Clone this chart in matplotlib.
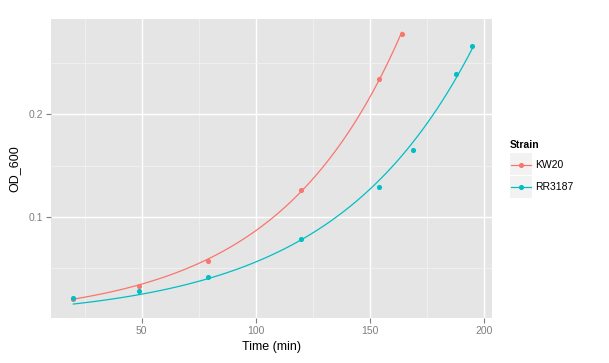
import numpy as np
import matplotlib
matplotlib.use("Agg")
import matplotlib.pyplot as plt
from matplotlib.patches import Rectangle
from matplotlib.lines import Line2D

plt.rcParams['font.family'] = ['Liberation Sans', 'DejaVu Sans']

# ── DATA ───────────────────────────────────────────────────────────────────────
strains = ["KW20", "RR3187"]
kw20_time = [20, 49, 79, 120, 154, 164]
kw20_od = [0.0205, 0.0330, 0.0575, 0.1263, 0.2344, 0.2785]
rr_time = [20, 49, 79, 120, 154, 169, 188, 195]
rr_od = [0.0214, 0.0282, 0.0419, 0.0786, 0.1295, 0.1655, 0.2395, 0.2668]
colors = ["#F8766D", "#00BFC4"]
# ───────────────────────────────────────────────────────────────────────────────


def exp_fit(x, y, n=80):
    """Fit y = a*exp(b*x) (log-linear, weighted toward larger y like nls)."""
    x = np.asarray(x, float)
    y = np.asarray(y, float)
    b, loga = np.polyfit(x, np.log(y), 1, w=y)
    xs = np.linspace(x.min(), x.max(), n)
    return xs, np.exp(loga) * np.exp(b * xs)


W, H = 609, 363
fig = plt.figure(figsize=(W / 100, H / 100), dpi=100)
ax = fig.add_axes([51 / W, 1 - 318 / H, (492 - 51) / W, (318 - 19) / H])

ax.set_facecolor('#E5E5E5')
for s in ax.spines.values():
    s.set_visible(False)

for t, od, c in zip([kw20_time, rr_time], [kw20_od, rr_od], colors):
    xs, ys = exp_fit(t, od)
    ax.plot(xs, ys, color=c, lw=0.9, zorder=3)
    ax.plot(t, od, 'o', color=c, ms=3.7, mec='none', zorder=4)

ax.set_xlim(10.2, 203.6)
ax.set_ylim(0.0017, 0.2928)
ax.set_xticks([50, 100, 150, 200])
ax.set_xticks([25, 75, 125, 175], minor=True)
ax.set_yticks([0.1, 0.2])
ax.set_yticklabels(["0.1", "0.2"])
ax.set_yticks([0.05, 0.15, 0.25], minor=True)

ax.grid(which='major', color='white', lw=1.0, zorder=0)
ax.grid(which='minor', color='#F2F2F2', lw=0.6, zorder=0)
ax.set_axisbelow(True)

ax.tick_params(which='major', length=3.5, width=0.8, color='#7F7F7F',
               labelcolor='#7F7F7F', labelsize=7.5, pad=2)
ax.tick_params(which='minor', length=0)

ax.set_xlabel("Time (min)", fontsize=9, labelpad=4)
ax.set_ylabel("OD_600", fontsize=9, labelpad=6)

# Legend (ggplot-style: grey key boxes)
def px(x, y):
    return x / W, 1 - y / H

fig.text(*px(510, 145), "Strain", fontsize=7.5, fontweight='bold',
         va='center', ha='left')
for i, (name, c) in enumerate(zip(strains, colors)):
    top = 153 + i * 23
    x0, y0 = px(510, top + 22)
    fig.add_artist(Rectangle((x0, y0), 22 / W, 22 / H, transform=fig.transFigure,
                             facecolor='#F2F2F2', edgecolor='none'))
    yc = 1 - (top + 11.5) / H
    fig.add_artist(Line2D([511 / W, 531 / W], [yc, yc], transform=fig.transFigure,
                          color=c, lw=0.9))
    fig.add_artist(Line2D([521 / W], [yc], transform=fig.transFigure,
                          marker='o', color=c, ms=3.7, mec='none'))
    fig.text(535 / W, yc, name, fontsize=7.5, va='center', ha='left')

fig.savefig("out.png", dpi=100)
